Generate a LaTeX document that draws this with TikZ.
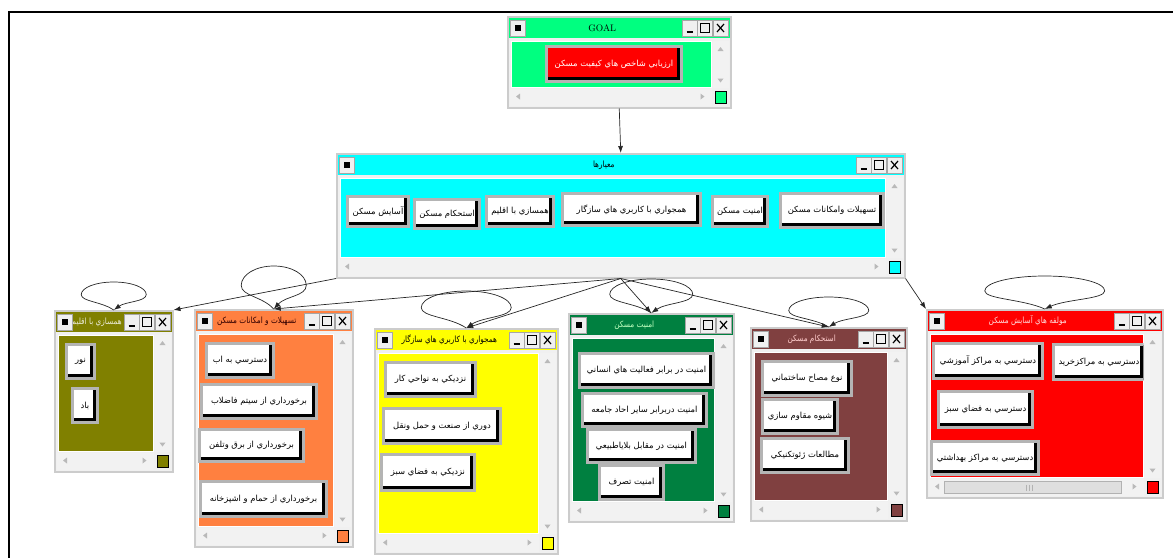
\documentclass[tikz,border=0pt]{standalone}
\usepackage{fontspec}
\usetikzlibrary{calc}
\usetikzlibrary{positioning}
\usetikzlibrary{arrows.meta}
\newfontfamily\fafont[Script=Arabic]{DejaVu Sans}
\newfontfamily\fatitle[Script=Arabic, FakeStretch=0.85]{DejaVu Sans}
\TeXXeTstate=1
\newcommand{\fa}[1]{{\fafont\beginR #1\endR}}
\newcommand{\fat}[1]{{\fatitle\beginR #1\endR}}

\definecolor{goalgreen}{HTML}{00FF80}
\definecolor{critcyan}{HTML}{00FFFF}
\definecolor{olivewin}{HTML}{808000}
\definecolor{orangewin}{HTML}{FF8040}
\definecolor{yellowwin}{HTML}{FFFF00}
\definecolor{greenwin}{HTML}{008040}
\definecolor{brownwin}{HTML}{804040}
\definecolor{redwin}{HTML}{FF0000}
\definecolor{chrome}{HTML}{F0F0F0}
\definecolor{btngray}{HTML}{B4B4B4}

\tikzset{
  winframe/.style={draw=gray!40, line width=1.5pt, fill=chrome, inner sep=0pt},
  tbtn/.style={draw=gray!70, fill=gray!12, minimum width=15pt, minimum height=16pt, inner sep=0pt},
  btn/.style={draw=btngray, line width=3pt, fill=white, inner xsep=5pt, inner ysep=0pt, font=\fontsize{8.4}{10}\selectfont,
    path picture={\draw[black, line width=9pt] (path picture bounding box.south west) -- (path picture bounding box.south east) -- (path picture bounding box.north east);}},
  edge/.style={draw=black!85, line width=0.7pt, -{Latex[length=7pt,width=5pt]}},
}

% window: name, left, top, right, bottom, colour, title, title colour
\newcommand{\appwin}[8]{%
  \node[winframe, anchor=north west, minimum width={#4pt-#2pt}, minimum height={#5pt-#3pt}] (#1) at (#2,#3) {};
  \fill[#6] ($(#1.north west)+(2,2)$) rectangle ($(#1.north east)+(-2,22)$);
  \node[font=\fontsize{8.6}{10}\selectfont, text=#8] (#1-title) at ($(#1.north west)!0.5!(#1.north east)+(-17,12)$) {#7};
  \node[tbtn] (#1-sys) at ($(#1.north west)+(11,12)$) {};
  \fill ($(#1-sys.center)+(-3,-3)$) rectangle ($(#1-sys.center)+(3,3)$);
  \node[tbtn] (#1-cls) at ($(#1.north east)+(-11,12)$) {};
  \node[tbtn, left=0pt of #1-cls] (#1-max) {};
  \node[tbtn, left=0pt of #1-max] (#1-min) {};
  \draw[line width=1.2pt] ($(#1-cls.center)+(-3.5,-4)$) -- ($(#1-cls.center)+(3.5,4)$) ($(#1-cls.center)+(-3.5,4)$) -- ($(#1-cls.center)+(3.5,-4)$);
  \draw[line width=1pt] ($(#1-max.center)+(-4.5,-4.5)$) rectangle ($(#1-max.center)+(4.5,4.5)$);
  \draw[line width=1.8pt] ($(#1-min.center)+(-3,4)$) -- ($(#1-min.center)+(3,4)$);
  \filldraw[fill=#6, draw=white, line width=1pt] ($(#1.north west)+(4,25)$) rectangle ($(#1.south east)+(-20,-21)$);
  \fill[gray!10] ($(#1.north east)+(-19,25)$) rectangle ($(#1.south east)+(-3,-21)$);
  \fill[gray!10] ($(#1.south west)+(3,-20)$) rectangle ($(#1.south east)+(-20,-3)$);
  \fill[gray!55] ($(#1.north east)+(-11,31)$) -- ++(-3,4) -- ++(6,0) -- cycle;
  \fill[gray!55] ($(#1.south east)+(-11,-26)$) -- ++(-3,-4) -- ++(6,0) -- cycle;
  \fill[gray!55] ($(#1.south west)+(9,-12)$) -- ++(4,-3) -- ++(0,6) -- cycle;
  \fill[gray!55] ($(#1.south east)+(-27,-12)$) -- ++(-4,-3) -- ++(0,6) -- cycle;
  \draw[fill=#6, line width=0.8pt] ($(#1.south east)+(-16,-17)$) rectangle ($(#1.south east)+(-5,-5)$);
}

\newcommand{\selfloop}[3]{%
  \draw[edge] (#1) .. controls +(-0.18*#2,-0.3*#3) and +(0,0.25*#3) .. ($(#1)+(-0.5*#2,-0.55*#3)$)
    .. controls +(0,-0.25*#3) and +(-0.28*#2,0) .. ($(#1)+(0,-#3)$)
    .. controls +(0.28*#2,0) and +(0,-0.25*#3) .. ($(#1)+(0.5*#2,-0.55*#3)$)
    .. controls +(0,0.25*#3) and +(0.18*#2,-0.3*#3) .. (#1);}

\begin{document}
\begin{tikzpicture}[x=1pt, y=-1pt]
  \useasboundingbox (0,0) rectangle (1173,558);
  \draw[line width=2pt] (1173,12) -- (9,12) -- (9,558);

  \appwin{goal}{507}{16}{730}{107}{goalgreen}{{\fontsize{9.5}{10}\selectfont GOAL}}{black}
  \node[btn, fill=redwin, text=white, minimum width=135pt, minimum height=35pt] (goal-1) at (614,64) {\fa{ارزيابي شاخص هاي كيفيت مسكن}};

  \appwin{crit}{336}{153}{904}{277}{critcyan}{\fat{معيارها}}{black}
  \foreach \cx/\cy/\w/\h/\txt [count=\i] in {832/210.5/103/34/تسهيلات وامكانات مسكن, 740/211.5/55/30/امنيت مسكن, 631.5/209.5/138/32/همجواري با كاربري هاي سازگار, 520/211.5/67/30/همسازي با اقليم, 447/214/63/29/استحكام مسكن, 378/211.5/57/30/آسايش مسكن}
    \node[btn, minimum width=\w pt, minimum height=\h pt] (crit-\i) at (\cx,\cy) {\fa{\txt}};

  \appwin{olive}{54}{310}{172}{471}{olivewin}{\fat{همسازي با اقليم}}{olivewin!15!white}
  \foreach \cx/\cy/\w/\h/\txt [count=\i] in {80.5/361.5/28/34/نور, 85/405.5/25/34/باد}
    \node[btn, minimum width=\w pt, minimum height=\h pt] (olive-\i) at (\cx,\cy) {\fa{\txt}};

  \appwin{orange}{194}{309}{352}{546}{orangewin}{\fat{تسهيلات و امكانات مسكن}}{black!80!red}
  \foreach \cx/\cy/\w/\h/\txt [count=\i] in {240/360.5/67/34/دسترسي به اب, 259/401.5/115/34/برخورداري از سيتم فاضلاب, 251.5/445.5/104/32/برخورداري از برق وتلفن, 263.5/499/126/35/برخورداري از حمام و اشپزخانه}
    \node[btn, minimum width=\w pt, minimum height=\h pt] (orange-\i) at (\cx,\cy) {\fa{\txt}};

  \appwin{yellow}{374}{328}{557}{553}{yellowwin}{\fat{همجواري با كاربري هاي سازگار}}{black}
  \foreach \cx/\cy/\w/\h/\txt [count=\i] in {430.5/379.5/90/34/نزديكي به نواحي كار, 442/426/117/35/دوري از صنعت و حمل ونقل, 428/472.5/93/36/نزديكي به فضاي سبز}
    \node[btn, minimum width=\w pt, minimum height=\h pt] (yellow-\i) at (\cx,\cy) {\fa{\txt}};

  \appwin{green}{568}{313}{733}{521}{greenwin}{\fat{امنيت مسكن}}{green!25!white}
  \foreach \cx/\cy/\w/\h/\txt [count=\i] in {646.5/370.5/134/34/امنيت در برابر فعاليت هاي انساني, 644.5/410/124/33/امنيت دربرابر ساير احاد جامعه, 641.5/446/108/33/امنيت در مقابل بلاياطبيعي, 631.5/482.5/64/34/امنيت تصرف}
    \node[btn, minimum width=\w pt, minimum height=\h pt] (green-\i) at (\cx,\cy) {\fa{\txt}};

  \appwin{brown}{750}{327}{906}{520}{brownwin}{\fat{استحكام مسكن}}{red!20!white}
  \foreach \cx/\cy/\w/\h/\txt [count=\i] in {807/378.5/89/34/نوع مصاح ساختماني, 800/416.5/75/34/شيوه مقاوم سازي, 805/455.5/87/34/مطالعات ژئوتكنيكي}
    \node[btn, minimum width=\w pt, minimum height=\h pt] (brown-\i) at (\cx,\cy) {\fa{\txt}};

  \appwin{red}{926}{309}{1162}{497}{redwin}{\fat{مولفه هاي آسايش مسكن}}{red!15!white}
  \draw[fill=gray!25, draw=gray!60] ($(red.south west)+(18,-17)$) rectangle ($(red.south east)+(-42,-5)$);
  \draw[gray!60] ($(red.south)+(-19,-14)$) -- ++(0,6) ($(red.south)+(-16,-14)$) -- ++(0,6) ($(red.south)+(-13,-14)$) -- ++(0,6);
  \foreach \cx/\cy/\w/\h/\txt [count=\i] in {988/361/109/35/دسترسي به مراكز آموزشي, 985.5/409.5/94/36/دسترسي به فضاي سبز, 985/458/107/33/دسترسي به مراكز بهداشتي}
    \node[btn, minimum width=\w pt, minimum height=\h pt] (red-\i) at (\cx,\cy) {\fa{\txt}};
  \begin{scope}
    \clip ($(red.north west)+(4,25)$) rectangle ($(red.south east)+(-20,-21)$);
    \node[btn, minimum width=89pt, minimum height=35pt] (red-4) at (1099,362) {\fa{دسترسي به مراكزخريد}};
  \end{scope}

  \draw[edge] (goal.south) -- (crit.north);
  \draw[edge] (crit.south west) -- (olive.north east);
  \draw[edge] (crit.south) -- (orange.north);
  \draw[edge] (crit.south) -- (yellow.north);
  \draw[edge] (crit.south) -- (green.north);
  \draw[edge] (crit.south) -- (brown.north);
  \draw[edge] (crit.south east) -- (red.north west);

  \selfloop{olive.north}{65}{28}
  \selfloop{orange.north}{65}{43}
  \selfloop{yellow.north}{90}{37}
  \selfloop{green.north}{83}{34}
  \selfloop{brown.north}{80}{30}
  \selfloop{red.north}{120}{33}
\end{tikzpicture}
\end{document}
